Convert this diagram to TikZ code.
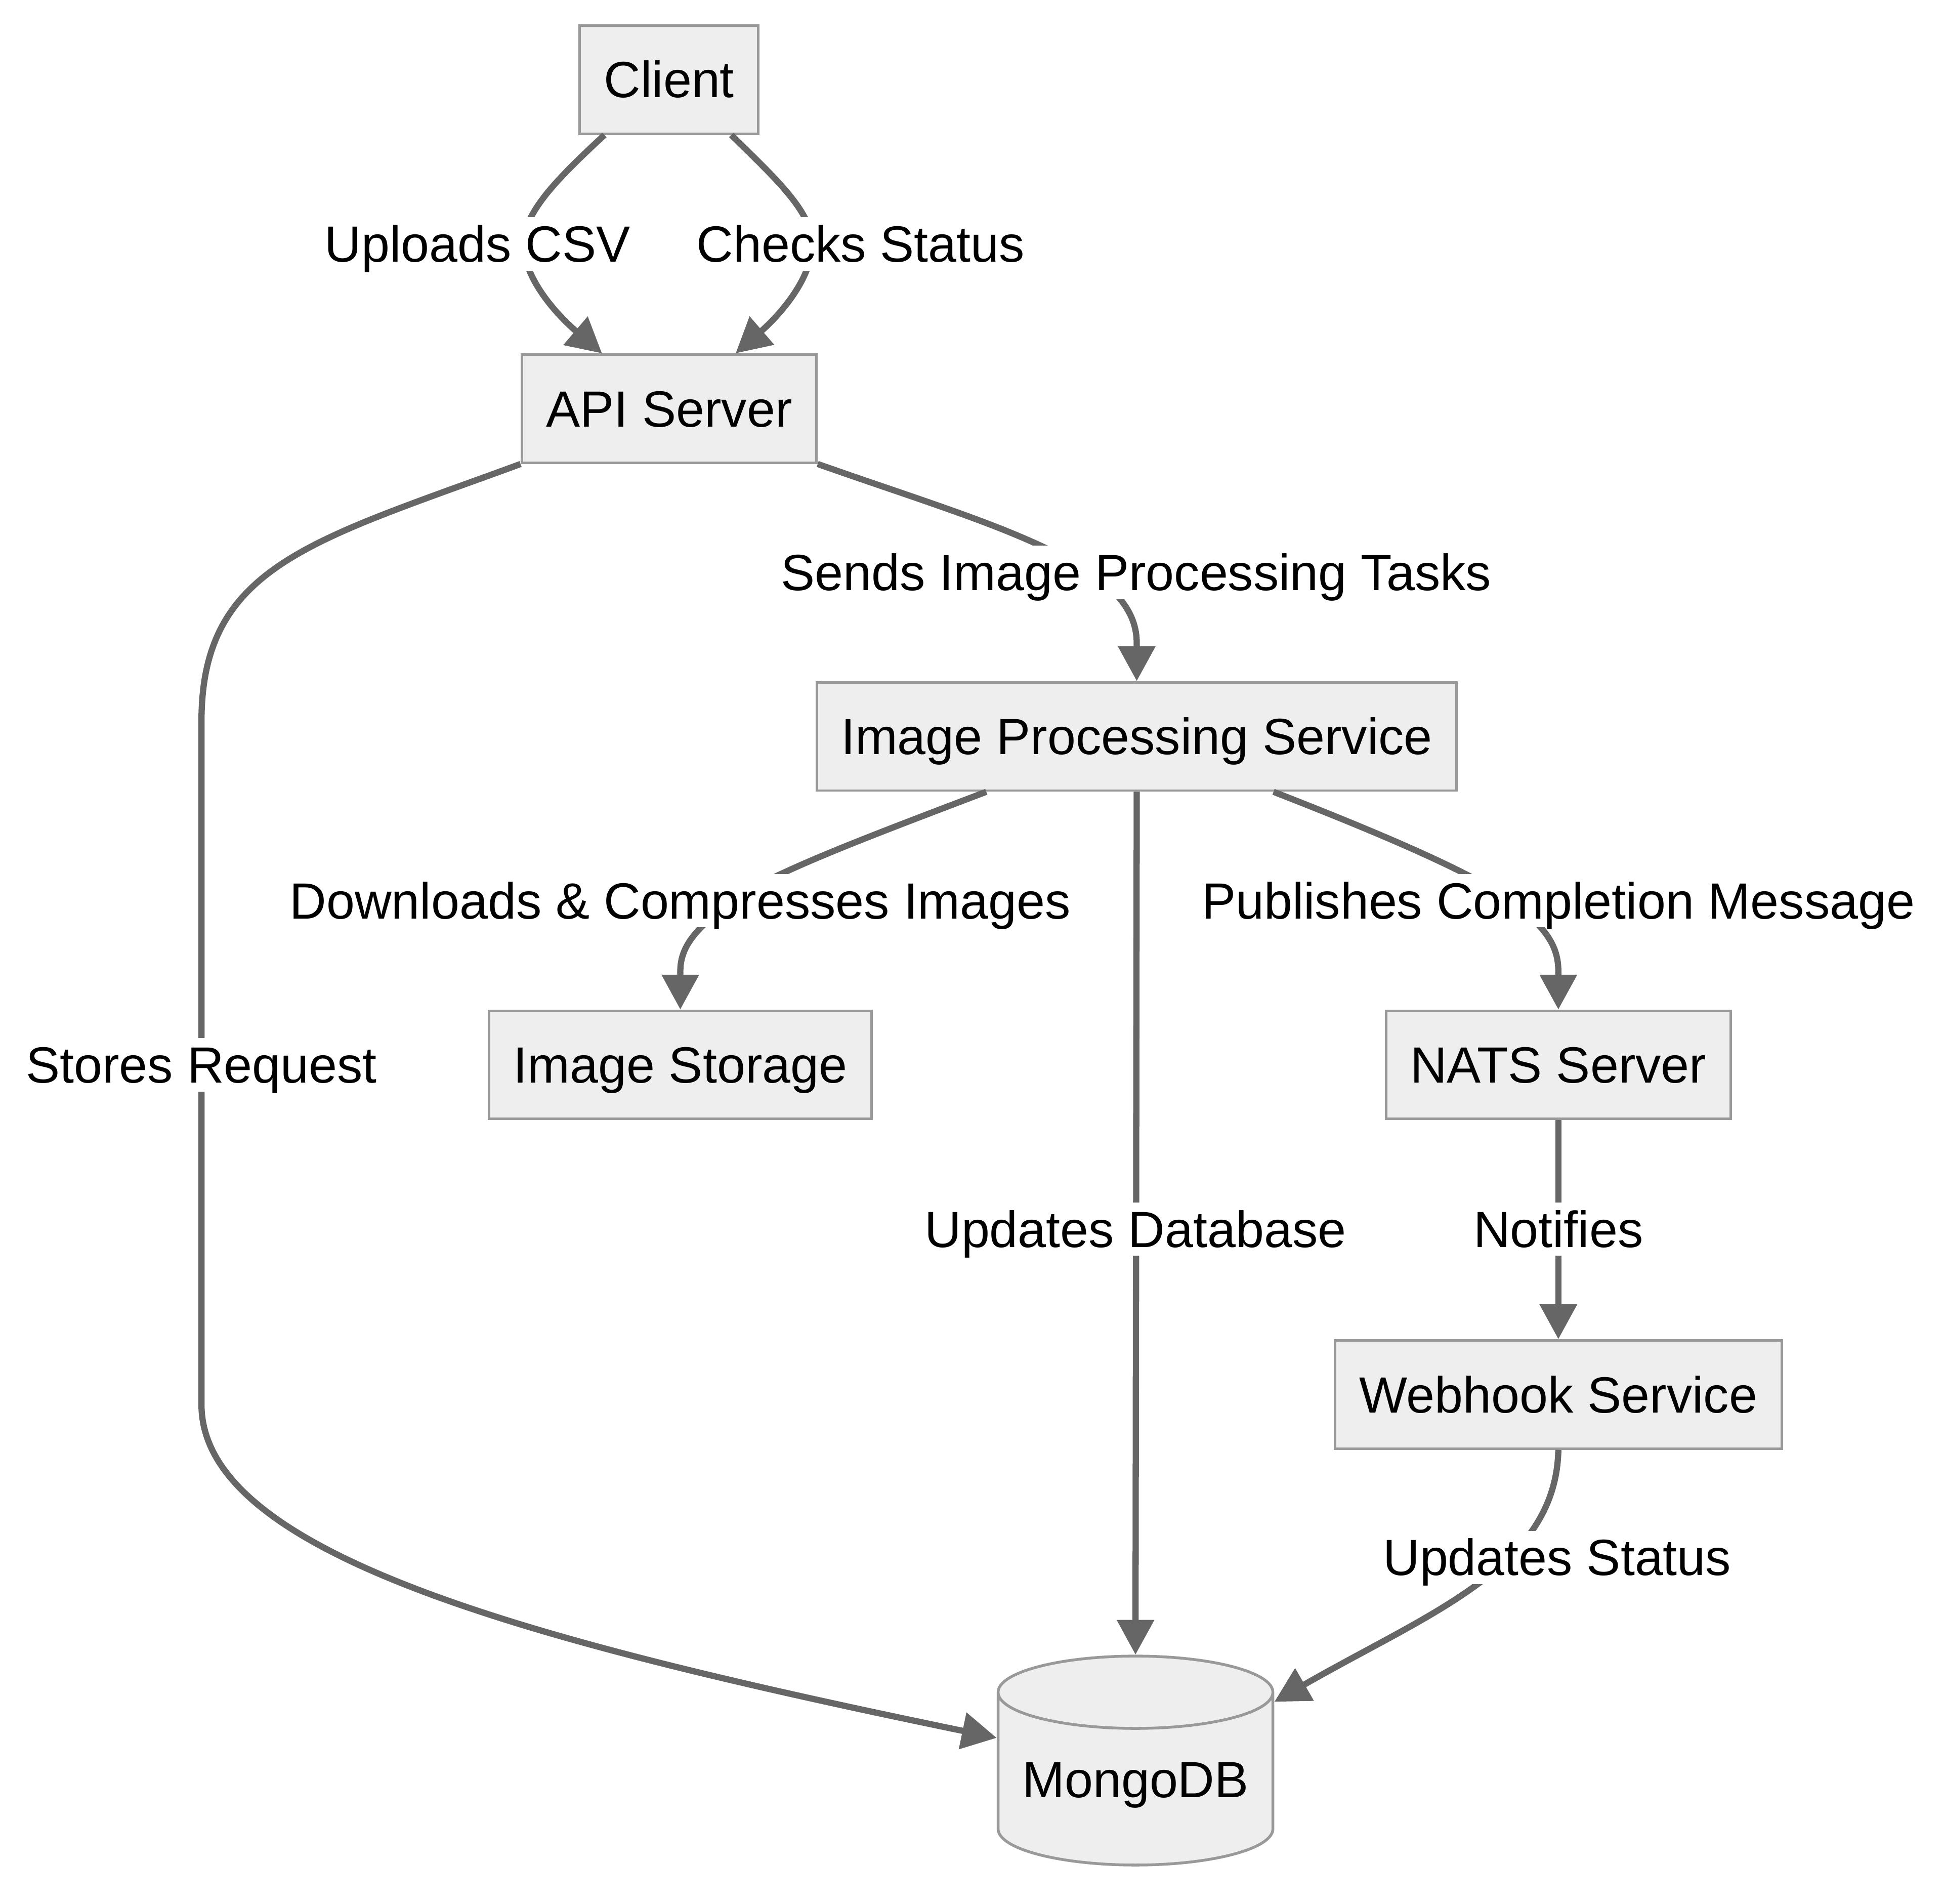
\documentclass[tikz,border=0pt]{standalone}
\usepackage{fontspec}
\setmainfont{Liberation Sans}
\usepackage{tikz}
\usetikzlibrary{shapes.geometric, arrows.meta}
\definecolor{boxfill}{HTML}{EEEEEE}
\definecolor{boxline}{HTML}{999999}
\definecolor{edgegray}{HTML}{666666}
\tikzstyle{box} = [rectangle, draw=boxline, fill=boxfill, line width=0.04cm, minimum height=1.74cm, inner xsep=0.39cm, text height=0.72cm, text depth=0.14cm]
\tikzstyle{db} = [cylinder, shape border rotate=90, aspect=0.3, draw=boxline, fill=boxfill, line width=0.045cm, minimum width=4.42cm, minimum height=3.36cm]
\tikzstyle{lbl} = [fill=white, inner sep=0pt, text height=0.72cm, text depth=0.14cm]
\tikzstyle{arrow} = [line width=0.1cm, draw=edgegray, -{Triangle[length=0.56cm, width=0.58cm]}]

\begin{document}
\begin{tikzpicture}[x=0.02cm, y=-0.02cm, font=\fontsize{23.3pt}{28pt}\selectfont]
	\useasboundingbox (0,0) rectangle (1562.3,1530.5);

	% Nodes
	\node (client) [box] at (538,64) {Client};
	\node (api) [box] at (538,328.5) {API Server};
	\node (ips) [box] at (914,592) {Image Processing Service};
	\node (storage) [box] at (547,856) {Image Storage};
	\node (nats) [box] at (1253,856) {NATS Server};
	\node (webhook) [box] at (1253,1121) {Webhook Service};
	\node (mongo) [db] at (913,1435) {MongoDB};

	% Arrows from client
	\draw [arrow] ([xshift=-1.04cm]client.south) .. controls (451,141) and (421,170) .. (421,196) .. controls (421,225) and (450,255) .. ([xshift=-1.08cm]api.north);
	\draw [arrow] ([xshift=1.0cm]client.south) .. controls (623,143) and (653,170) .. (653,196) .. controls (653,225) and (625,255) .. ([xshift=1.07cm]api.north);

	% Arrows from api server
	\draw [arrow] (api.south east) .. controls (740,402) and (800,420) .. (850,445) .. controls (895,468) and (914,490) .. (914,517) -- (ips.north);
	\draw [arrow] (api.south west) .. controls (250,435) and (162,455) .. (162,580) -- (162,1129) .. controls (162,1250) and (429,1320) .. ([yshift=0.76cm]mongo.west);

	% Arrows from image processing service
	\draw [arrow] ([xshift=-2.42cm]ips.south) .. controls (705,670) and (630,698) .. (595,720) .. controls (560,745) and (547,760) .. (547,781) -- (storage.north);
	\draw [arrow] (ips.south) -- (mongo.north);
	\draw [arrow] ([xshift=2.2cm]ips.south) .. controls (1110,670) and (1180,700) .. (1212,722) .. controls (1243,745) and (1253,760) .. (1253,781) -- (nats.north);

	% Arrows from nats and webhook
	\draw [arrow] (nats) -- (webhook);
	\draw [arrow] (webhook.south) .. controls (1251,1260) and (1150,1296) .. ([yshift=1.34cm]mongo.east);

	% Labels
	\node (lupload) [lbl] at (384,196) {Uploads CSV};
	\node (lcheck) [lbl] at (692,196) {Checks Status};
	\node (lsend) [lbl] at (913.5,460) {Sends Image Processing Tasks};
	\node (lstore) [lbl] at (162,856) {Stores Request};
	\node (ldownload) [lbl] at (547,724) {Downloads \& Compresses Images};
	\node (lpublish) [lbl] at (1253,724) {Publishes Completion Message};
	\node (ldatabase) [lbl] at (913,988) {Updates Database};
	\node (lnotify) [lbl] at (1253,988) {Notifies};
	\node (lstatus) [lbl] at (1252,1252) {Updates Status};

\end{tikzpicture}
\end{document}
